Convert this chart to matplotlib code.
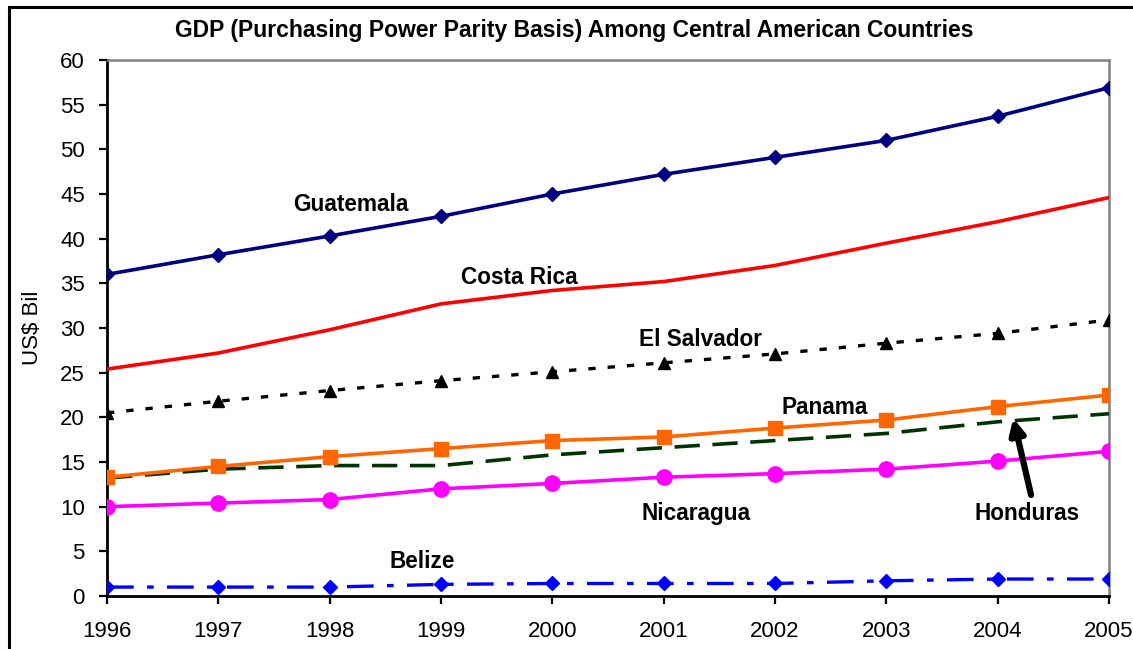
import matplotlib
matplotlib.use("Agg")
import matplotlib.pyplot as plt
from matplotlib.lines import Line2D

plt.rcParams['font.family'] = ['Liberation Sans', 'DejaVu Sans']

years = [1996, 1997, 1998, 1999, 2000, 2001, 2002, 2003, 2004, 2005]
guatemala = [36.0, 38.2, 40.3, 42.5, 45.0, 47.2, 49.1, 51.0, 53.7, 56.9]
costa_rica = [25.4, 27.2, 29.8, 32.7, 34.2, 35.2, 37.0, 39.5, 41.9, 44.6]
el_salvador = [20.5, 21.8, 23.0, 24.1, 25.1, 26.1, 27.1, 28.3, 29.4, 30.9]
panama = [13.3, 14.5, 15.6, 16.5, 17.4, 17.8, 18.8, 19.7, 21.2, 22.5]
honduras = [13.2, 14.2, 14.6, 14.6, 15.8, 16.6, 17.4, 18.2, 19.5, 20.4]
nicaragua = [10.0, 10.4, 10.8, 12.0, 12.6, 13.3, 13.7, 14.2, 15.1, 16.2]
belize = [1.0, 1.0, 1.0, 1.3, 1.4, 1.4, 1.4, 1.7, 1.9, 1.9]

title = "GDP (Purchasing Power Parity Basis) Among Central American Countries"
y_label = "US$ Bil"
y_ticks = list(range(0, 61, 5))

fig = plt.figure(figsize=(11.33, 6.49), dpi=100)
ax = fig.add_axes([107 / 1133, 53 / 649, 1002 / 1133, 536 / 649])

# outer frame of the chart (top and left edges fall inside the image)
fx, fy = 9 / 1133, 1 - 7 / 649
fig.lines.append(Line2D([fx, 1.0], [fy, fy], transform=fig.transFigure,
                        color='black', linewidth=2.2))
fig.lines.append(Line2D([fx, fx], [0.0, fy], transform=fig.transFigure,
                        color='black', linewidth=2.2))

ax.plot(years, honduras, color='#003300', linewidth=2.6, dashes=(7, 3.5), zorder=2)
ax.plot(years, belize, color='#0000FF', linewidth=2.4, dashes=(8, 4, 2, 4),
        marker='D', markersize=7, zorder=3)
ax.plot(years, nicaragua, color='#FF00FF', linewidth=2.6, marker='o',
        markersize=11, zorder=3)
ax.plot(years, panama, color='#FF6600', linewidth=2.6, marker='s',
        markersize=9.5, zorder=3)
ax.plot(years, el_salvador, color='black', linewidth=2.4, dashes=(2.2, 3.6),
        marker='^', markersize=8.5, zorder=3)
ax.plot(years, costa_rica, color='#FF0000', linewidth=2.6, zorder=3)
ax.plot(years, guatemala, color='#000080', linewidth=2.6, marker='D',
        markersize=7, zorder=3)

label_kw = dict(fontsize=16.3, fontweight='bold', ha='center', va='center')
ax.text(1998.19, 43.85, "Guatemala", **label_kw)
ax.text(1999.70, 35.65, "Costa Rica", **label_kw)
ax.text(2001.33, 28.7, "El Salvador", **label_kw)
ax.text(2002.45, 21.05, "Panama", **label_kw)
ax.text(2001.29, 9.25, "Nicaragua", **label_kw)
ax.text(2004.26, 9.2, "Honduras", **label_kw)
ax.text(1998.83, 3.85, "Belize", **label_kw)

ax.annotate("", xy=(2004.14, 19.9), xytext=(2004.30, 11.3),
            arrowprops=dict(arrowstyle='-|>,head_length=0.9,head_width=0.45',
                            color='black', linewidth=4.5, shrinkA=0, shrinkB=0))

ax.set_xlim(1996, 2005)
ax.set_ylim(0, 60)
ax.set_xticks(years)
ax.set_yticks(y_ticks)
ax.tick_params(axis='both', direction='out', length=6, width=1.6,
               labelsize=16, pad=10)
ax.tick_params(axis='x', pad=12)

for side in ('left', 'bottom'):
    ax.spines[side].set_color('black')
    ax.spines[side].set_linewidth(2)
for side in ('top', 'right'):
    ax.spines[side].set_color('#808080')
    ax.spines[side].set_linewidth(1.8)
for sp in ax.spines.values():
    sp.set_zorder(1)
    sp.set_clip_on(False)

ax.set_ylabel(y_label, fontsize=16, labelpad=12)
fig.text(574 / 1133, 1 - 30 / 649, title, fontsize=16.5, fontweight='bold',
         ha='center', va='center')

fig.savefig("out.png", dpi=100)
